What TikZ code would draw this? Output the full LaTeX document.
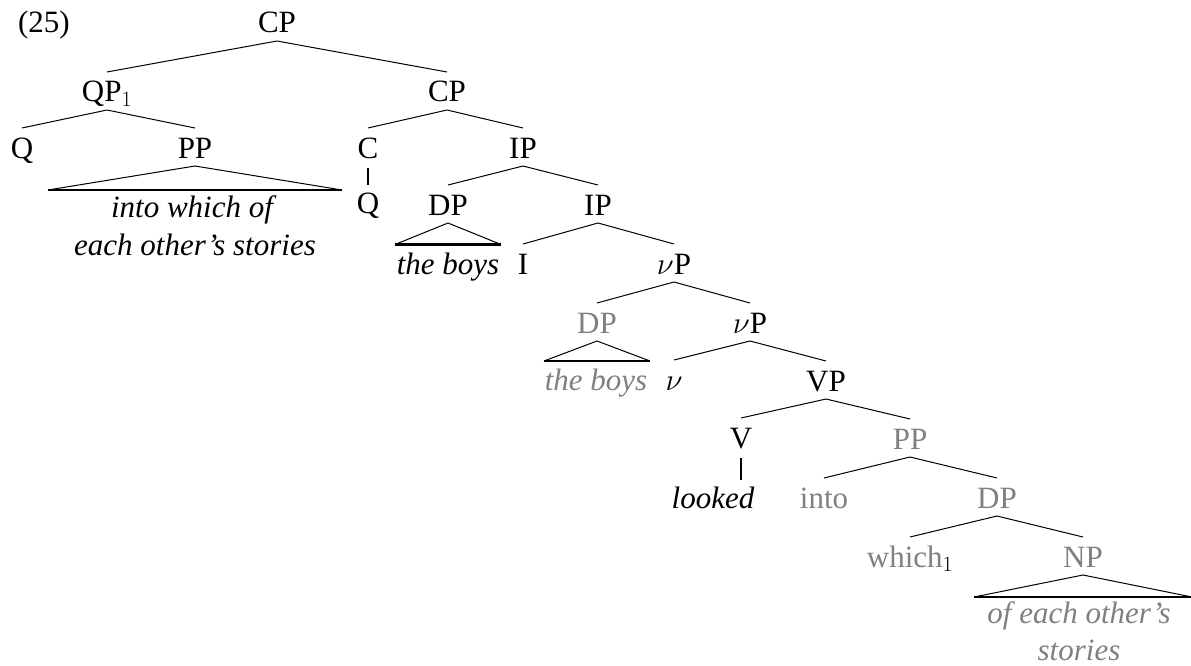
\documentclass[tikz,border=0pt]{standalone}
\usepackage{fix-cm}
\usepackage{fontspec}
\setmainfont{Liberation Serif}
\usetikzlibrary{calc}
\definecolor{trace}{RGB}{128,128,128}

% branch from a mother label down to a daughter label
\newcommand\branchedge[2]{\draw[branchline] ($(#1.base)+(0,8)$) -- ($(#2.base)+(0,-30)$);}
% single vertical line for a non-branching node, kept under the mother
\newcommand\unaryedge[2]{%
  \path ($(#2.base)+(0,-28)$) coordinate (#2-top);
  \draw[unaryline] ($(#1.base)+(0,10)$) -- (#1.base |- #2-top);}
% roof (triangle) under a phrase: node, half width, depth of the base line
\newcommand\roofunder[3]{%
  \draw[roofside] ($(#1.base)+(-#2,#3)$) -- ($(#1.base)+(0,8)$) -- ($(#1.base)+(#2,#3)$);
  \draw[roofbase] ($(#1.base)+(-#2,#3)$) -- ($(#1.base)+(#2,#3)$);}

\begin{document}
\begin{tikzpicture}[x=1pt,y=-1pt,
  every node/.style={inner sep=0pt, anchor=base, font=\fontsize{31}{36}\selectfont},
  copy/.style={text=trace},
  branchline/.style={line width=1pt},
  unaryline/.style={line width=2pt},
  roofside/.style={line width=1pt},
  roofbase/.style={line width=2.4pt}]
\useasboundingbox (0,0) rectangle (1191,666);

\node (num) at (44,33) {(25)};

% upper part of the tree
\node (cp)   at (277,33)  {CP};
\node (qp)   at (107,102) {QP$_1$};
\node (cpb)  at (447,102) {CP};
\node (q)    at (22,158)  {Q};
\node (pp)   at (195,158) {PP};
\node (c)    at (368,158) {C};
\node (ip)   at (523,158) {IP};
\node (pptxa) at (192,217) {\itshape into which of};
\node (pptxb) at (195,255) {\itshape each other’s stories};
\node (cq)   at (368,213) {Q};
\node (dp)   at (448,215) {DP};
\node (ipb)  at (598,215) {IP};
\node (dptx) at (448,274) {\itshape the boys};
\node (i)    at (523,274) {I};
\node (vp)   at (674,274) {$\nu$P};

% lower part, with the copies in grey
\node[copy] (dpc)   at (597,333) {DP};
\node (vpb)  at (750,333) {$\nu$P};
\node[copy] (dpctx) at (596,390) {\itshape the boys};
\node (v)    at (674,390) {$\nu$};
\node (vbar) at (826,391) {VP};
\node (verb) at (741,448) {V};
\node[copy] (ppc)   at (910,449) {PP};
\node (looked) at (713,508) {\itshape looked};
\node[copy] (into)  at (824,508) {into};
\node[copy] (dpd)   at (997,508) {DP};
\node (which) at (910,567) {\textcolor{trace}{which}$_1$};
\node[copy] (np)    at (1083,567) {NP};
\node[copy] (nptxa) at (1079,623) {\itshape of each other’s};
\node[copy] (nptxb) at (1079,660) {\itshape stories};

% branches
\branchedge{cp}{qp}
\branchedge{cp}{cpb}
\branchedge{qp}{q}
\branchedge{qp}{pp}
\branchedge{cpb}{c}
\branchedge{cpb}{ip}
\branchedge{ip}{dp}
\branchedge{ip}{ipb}
\branchedge{ipb}{i}
\branchedge{ipb}{vp}
\branchedge{vp}{dpc}
\branchedge{vp}{vpb}
\branchedge{vpb}{v}
\branchedge{vpb}{vbar}
\branchedge{vbar}{verb}
\branchedge{vbar}{ppc}
\branchedge{ppc}{into}
\branchedge{ppc}{dpd}
\branchedge{dpd}{which}
\branchedge{dpd}{np}

\unaryedge{c}{cq}
\unaryedge{verb}{looked}

% roofs
\roofunder{pp}{147}{32}
\roofunder{dp}{53}{29.5}
\roofunder{dpc}{53}{28}
\roofunder{np}{109}{30}
\end{tikzpicture}
\end{document}
